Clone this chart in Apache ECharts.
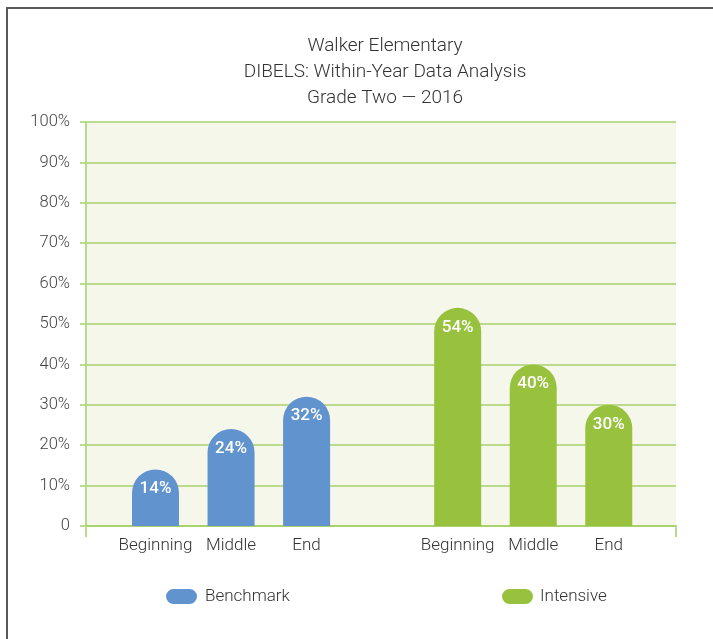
<!DOCTYPE html>
<html>
<head>
<meta charset="utf-8">
<script src="https://cdn.jsdelivr.net/npm/echarts@6/dist/echarts.min.js"></script>
<style>html,body{margin:0;padding:0;background:#fff}#c{width:713px;height:639px}</style>
</head>
<body>
<div id="c"></div>
<script>
var titleLines = ['Walker Elementary', 'DIBELS: Within-Year Data Analysis', 'Grade Two \u2014 2016'];
var periods = ['Beginning', 'Middle', 'End'];
var benchmarkPos = [0, 1, 2];
var intensivePos = [4, 5, 6];
var benchmarkValues = [14, 24, 32];
var intensiveValues = [54, 40, 30];
var yTicks = [0, 10, 20, 30, 40, 50, 60, 70, 80, 90, 100];

var posLabels = {};
benchmarkPos.forEach(function (p, i) { posLabels[p] = periods[i]; });
intensivePos.forEach(function (p, i) { posLabels[p] = periods[i]; });

var FONT = 'Roboto';
var chart = echarts.init(document.getElementById('c'), null, {renderer: 'canvas'});

function barLabel() {
  return {
    show: true, position: 'insideTop', distance: 11,
    color: '#fff', fontFamily: FONT, fontWeight: 500, fontSize: 17,
    formatter: function (p) { return p.value[1] + '%'; }
  };
}

var PILL = 'path://M7.5,0 H23.5 A7.5,7.5 0 0 1 23.5,15 H7.5 A7.5,7.5 0 0 1 7.5,0 Z';

var option = {
  backgroundColor: '#fff',
  animation: false,
  graphic: [
    {type: 'rect', shape: {x: 7, y: 8, width: 800, height: 700},
     style: {fill: 'none', stroke: '#5a5a5a', lineWidth: 2}, z: -1},
    {type: 'text', x: 385, y: 33,
     style: {text: titleLines.join('\n'), textAlign: 'center', font: '300 19px Roboto',
             fill: '#333', lineHeight: 26}}
  ],
  legend: [
    {data: ['Benchmark'], left: 166, top: 588, padding: 0, itemWidth: 31, itemHeight: 15, icon: PILL,
     textStyle: {fontFamily: FONT, fontWeight: 300, fontSize: 17, color: '#333', padding: [0, 0, 0, 3]}},
    {data: ['Intensive'], left: 502, top: 588, padding: 0, itemWidth: 31, itemHeight: 15, icon: PILL,
     textStyle: {fontFamily: FONT, fontWeight: 300, fontSize: 17, color: '#333', padding: [0, 0, 0, 2]}}
  ],
  grid: {left: 86, right: 37, top: 122, bottom: 113, show: true,
         backgroundColor: '#f5f7eb', borderWidth: 0},
  xAxis: {
    type: 'value', min: -0.92, max: 6.89,
    splitLine: {show: false},
    axisLine: {show: true, onZero: false, lineStyle: {color: '#a9d16c', width: 2}},
    axisTick: {show: true, customValues: [-0.92, 6.89], length: 11, inside: false,
               lineStyle: {color: '#b7db8c', width: 2}},
    axisLabel: {customValues: benchmarkPos.concat(intensivePos), margin: 11,
                fontFamily: FONT, fontWeight: 300, fontSize: 17, color: '#333',
                formatter: function (v) { return posLabels[v] || ''; }}
  },
  yAxis: {
    type: 'value', min: 0, max: 100, interval: 10,
    axisLine: {show: true, onZero: false, lineStyle: {color: '#b7db8c', width: 2}},
    axisTick: {show: true, length: 6, lineStyle: {color: '#a9d16c', width: 1.5}},
    splitLine: {show: true, lineStyle: {color: '#a9d16c', width: 1.5}},
    axisLabel: {margin: 16, fontFamily: FONT, fontWeight: 300, fontSize: 16.5, color: '#444',
                formatter: function (v) { return v === 0 ? '0' : v + '%'; }}
  },
  series: [
    {name: 'Benchmark', type: 'bar', barWidth: 47, barGap: '-100%',
     itemStyle: {color: '#6193ce', borderRadius: [24, 24, 0, 0]},
     label: barLabel(),
     data: benchmarkPos.map(function (p, i) { return [p, benchmarkValues[i]]; })},
    {name: 'Intensive', type: 'bar', barWidth: 47, barGap: '-100%',
     itemStyle: {color: '#98c23e', borderRadius: [24, 24, 0, 0]},
     label: barLabel(),
     data: intensivePos.map(function (p, i) { return [p, intensiveValues[i]]; })}
  ]
};
chart.setOption(option);
</script>
</body>
</html>
